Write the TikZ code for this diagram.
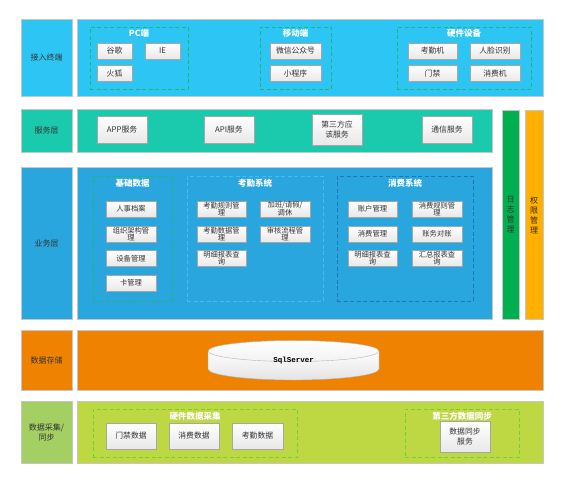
\documentclass[tikz,border=0pt]{standalone}
\usepackage{fontspec}
\usepackage{xcolor}
\usepackage{tikz}
\setmainfont{Noto Sans CJK SC}
\newfontfamily\dbfont{Liberation Mono}
\usetikzlibrary{positioning,shapes,shadows,calc}
\definecolor{accessblue}{HTML}{2DC6F4}
\definecolor{servicegreen}{HTML}{1BC9AD}
\definecolor{bizblue}{HTML}{2AA6DE}
\definecolor{storeorange}{HTML}{EF8200}
\definecolor{collectlime}{HTML}{BDD843}
\definecolor{collectlabel}{HTML}{A4CF62}
\definecolor{loggreen}{HTML}{00B050}
\definecolor{authorange}{HTML}{FFB000}
\definecolor{dashgreen}{HTML}{22B573}
\definecolor{dashlime}{HTML}{6CD13A}
\definecolor{dashlight}{HTML}{45BDEE}
\definecolor{dashdark}{HTML}{1A77B8}
\definecolor{textgray}{HTML}{333333}
\tikzstyle{layer}=[rectangle, draw=gray!45, line width=0.8pt, inner sep=0pt, text=textgray, font=\fontsize{8}{10}\selectfont, align=center]
\tikzstyle{group}=[rectangle, line width=1pt, dash pattern=on 4pt off 2.5pt, inner sep=0pt]
\tikzstyle{grouptitle}=[text=white, font=\fontsize{8.5}{10}\bfseries\selectfont, inner sep=0pt]
\tikzstyle{item}=[rectangle, draw=gray!70, top color=white, bottom color=gray!18, drop shadow={shadow xshift=0.7pt, shadow yshift=-0.7pt, opacity=0.35}, text=textgray, font=\fontsize{7.8}{9.3}\selectfont, align=center, inner sep=0pt, minimum width=50pt, minimum height=16pt, anchor=center]
\tikzstyle{small}=[item, font=\fontsize{7.3}{7.3}\selectfont]

\begin{document}
\begin{tikzpicture}[x=1pt, y=-1pt]
        \fill[white] (0,0) rectangle (564,482);
        \useasboundingbox (0,0) rectangle (564,482);

        % layer labels
        \node[layer, fill=accessblue, minimum width=51pt, minimum height=77pt] (access) at (46.5,57.5) {接入终端};
        \node[layer, fill=servicegreen, minimum width=51pt, minimum height=43pt] (service) at (46.5,130.5) {服务层};
        \node[layer, fill=bizblue, minimum width=51pt, minimum height=152pt] (business) at (46.5,243) {业务层};
        \node[layer, fill=storeorange, minimum width=51pt, minimum height=60pt] (storage) at (46.5,360) {数据存储};
        \node[layer, fill=collectlabel, minimum width=51pt, minimum height=62pt] (collect) at (46.5,432) {数据采集/\\同步};

        % layer bodies
        \node[layer, fill=accessblue, minimum width=466pt, minimum height=77pt] (accessbody) at (310,57.5) {};
        \node[layer, fill=servicegreen, minimum width=415pt, minimum height=43pt] (servicebody) at (284.5,130.5) {};
        \node[layer, fill=bizblue, minimum width=415pt, minimum height=152pt] (businessbody) at (284.5,243) {};
        \node[layer, fill=storeorange, minimum width=466pt, minimum height=60pt] (storagebody) at (310,360) {};
        \node[layer, fill=collectlime, minimum width=466pt, minimum height=62pt] (collectbody) at (310,432) {};

        % side bars
        \node[layer, fill=loggreen, minimum width=17pt, minimum height=209pt] (logbar) at (510.5,214.5) {};
        \node[layer, fill=authorange, minimum width=18pt, minimum height=209pt] (authbar) at (534,214.5) {};
        \node[text=textgray, font=\fontsize{8}{10}\selectfont, align=center] (logtext) at (510.5,215) {日\\志\\管\\理};
        \node[text=black!70!brown, font=\fontsize{8}{10}\selectfont, align=center] (authtext) at (534,215) {权\\限\\管\\理};

        % access terminals
        \node[group, draw=dashgreen, minimum width=98pt, minimum height=62pt] (pcgroup) at (139,58) {};
        \node[group, draw=dashgreen, minimum width=71pt, minimum height=62pt] (mobilegroup) at (295.5,58) {};
        \node[group, draw=dashgreen, minimum width=134pt, minimum height=62pt] (hwgroup) at (464,58) {};
        \node[grouptitle] (pctitle) at (139,33) {PC端};
        \node[grouptitle] (mobiletitle) at (295.5,33) {移动端};
        \node[grouptitle] (hwtitle) at (464,33) {硬件设备};
        \node[item, minimum width=35pt] (chrome) at (114.5,51) {谷歌};
        \node[item, minimum width=35pt] (ie) at (162.5,51) {IE};
        \node[item, minimum width=35pt] (firefox) at (114.5,73.5) {火狐};
        \node[item, minimum width=51pt] (wechat) at (295.5,51) {微信公众号};
        \node[item, minimum width=51pt] (miniapp) at (295.5,73.5) {小程序};
        \node[item, minimum width=49pt] (clock) at (432.5,51) {考勤机};
        \node[item] (face) at (495,51) {人脸识别};
        \node[item, minimum width=49pt] (door) at (432.5,73.5) {门禁};
        \node[item] (pos) at (495,73.5) {消费机};

        % services
        \node[item, minimum height=27pt] (appsrv) at (122,129.5) {APP服务};
        \node[item, minimum height=27pt] (apisrv) at (229,129.5) {API服务};
        \node[item, minimum height=31pt] (thirdsrv) at (337,129.5) {第三方应\\该服务};
        \node[item, minimum height=27pt] (commsrv) at (447,129.5) {通信服务};

        % business
        \node[group, draw=dashgreen, minimum width=79pt, minimum height=125pt] (basegroup) at (132.5,238.5) {};
        \node[group, draw=dashlight, minimum width=136pt, minimum height=125pt] (attgroup) at (255,238.5) {};
        \node[group, draw=dashdark, minimum width=136pt, minimum height=125pt] (congroup) at (405,238.5) {};
        \node[grouptitle] (basetitle) at (132.5,183) {基础数据};
        \node[grouptitle] (atttitle) at (255,183) {考勤系统};
        \node[grouptitle] (contitle) at (405,183) {消费系统};
        \node[small] (staff) at (131,209) {人事档案};
        \node[small] (org) at (131,234) {组织架构管\\理};
        \node[small] (device) at (131,258.5) {设备管理};
        \node[small] (card) at (131,283) {卡管理};
        \node[small, minimum width=49pt] (attrule) at (221.5,209) {考勤规则管\\理};
        \node[small] (leave) at (285,209) {加班/请假/\\调休};
        \node[small, minimum width=49pt] (attdata) at (221.5,234) {考勤数据管\\理};
        \node[small] (audit) at (285,234) {审核流程管\\理};
        \node[small, minimum width=49pt] (attreport) at (221.5,258.5) {明细报表查\\询};
        \node[small, minimum width=49pt] (account) at (372.5,209) {账户管理};
        \node[small] (conrule) at (437,209) {消费规则管\\理};
        \node[small, minimum width=49pt] (conmgmt) at (372.5,234) {消费管理};
        \node[small] (recon) at (437,234) {账务对账};
        \node[small, minimum width=49pt] (conreport) at (372.5,258.5) {明细报表查\\询};
        \node[small] (sumreport) at (437,258.5) {汇总报表查\\询};

        % storage
        \shade[top color=white, bottom color=gray!22, draw=gray!60] (208,351) -- (208,369) arc[start angle=180, end angle=360, x radius=85.5pt, y radius=11pt] -- (379,351) -- cycle;
        \shade[top color=white, bottom color=gray!10, draw=gray!60] (293.5,351) ellipse [x radius=85.5pt, y radius=10.5pt];
        \node[font=\dbfont\fontsize{7.5}{9}\bfseries\selectfont, inner sep=0pt] (db) at (293.5,360.5) {SqlServer};

        % collection
        \node[group, draw=dashlime, minimum width=204pt, minimum height=48pt] (hwdatagroup) at (195,433) {};
        \node[group, draw=dashlime, minimum width=114pt, minimum height=48pt] (syncgroup) at (462,433) {};
        \node[grouptitle] (hwdatatitle) at (195,416) {硬件数据采集};
        \node[grouptitle] (synctitle) at (462,416) {第三方数据同步};
        \node[item, minimum height=26pt] (doordata) at (131,436) {门禁数据};
        \node[item, minimum height=26pt] (posdata) at (194,436) {消费数据};
        \node[item, minimum width=51pt, minimum height=26pt] (clockdata) at (257.5,436) {考勤数据};
        \node[item, minimum height=31pt] (syncsrv) at (465,436.5) {数据同步\\服务};
    \end{tikzpicture}
\end{document}
